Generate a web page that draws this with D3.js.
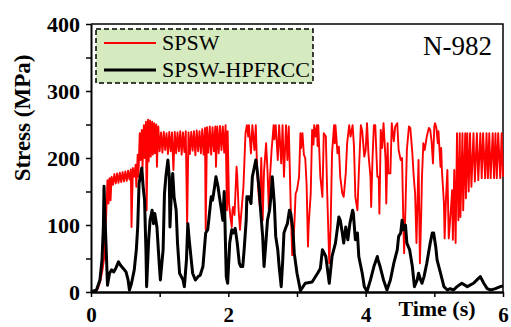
<!DOCTYPE html>
<html>
<head>
<meta charset="utf-8">
<script src="https://cdn.jsdelivr.net/npm/d3@7"></script>
<style>
  body { margin: 0; background: #fff; }
  svg { display: block; font-family: "Liberation Serif", "Times New Roman", serif; }
</style>
</head>
<body>
<div id="chart"></div>
<script>
// Axis ticks
const yTicks = [0, 50, 100, 150, 200, 250, 300, 350, 400];
const yLabels = [0, 100, 200, 300, 400];
const xTicks = [0, 1, 2, 3, 4, 5, 6];
const xLabels = [0, 2, 4, 6];

// Series names
const seriesNames = ["SPSW", "SPSW-HPFRCC"];
const panelLabel = "N-982";

// SPSW (red), [time s, stress MPa]
const spsw = [
  [0.00,0],[0.06,0],[0.10,5],[0.14,18],[0.17,35],[0.19,50],[0.20,78],[0.22,112],[0.24,167],[0.255,132],
  [0.27,170],[0.285,137],[0.30,172],[0.32,160],[0.34,176],[0.36,162],[0.38,177],[0.40,163],[0.42,178],
  [0.44,164],[0.46,179],[0.48,165],[0.50,180],[0.52,166],[0.54,181],[0.56,168],[0.58,183],[0.59,97],
  [0.61,185],[0.63,172],[0.65,190],[0.66,157],[0.68,205],[0.69,172],[0.71,237],[0.72,197],[0.74,242],
  [0.75,185],[0.77,249],[0.78,200],[0.80,254],[0.81,122],[0.83,257],[0.84,195],[0.86,256],[0.87,202],
  [0.89,254],[0.90,205],[0.92,252],[0.93,207],[0.95,250],[0.96,187],[0.98,247],
  [1.00,210],[1.02,238],[1.04,208],[1.06,239],[1.08,212],[1.10,237],[1.12,206],[1.14,239],[1.16,210],
  [1.18,238],[1.20,182],[1.22,239],[1.24,207],[1.26,238],[1.28,210],[1.30,240],[1.32,205],[1.34,238],
  [1.36,209],[1.38,240],[1.40,102],[1.42,238],[1.44,206],[1.46,239],[1.48,211],[1.50,240],[1.52,204],
  [1.54,241],[1.56,210],[1.58,240],[1.60,207],[1.62,243],[1.64,205],[1.66,245],[1.67,93],[1.69,246],
  [1.71,208],[1.73,247],[1.75,205],[1.77,246],[1.79,210],[1.81,247],[1.82,187],[1.84,247],[1.86,207],
  [1.88,248],[1.90,212],[1.92,247],[1.94,208],[1.96,249],[1.98,122],[1.99,240],
  [2.01,132],[2.03,112],[2.05,97],[2.06,122],[2.07,127],[2.09,115],[2.12,187],[2.13,172],[2.15,122],
  [2.17,93],[2.18,107],[2.22,157],[2.25,237],[2.27,249],[2.29,232],[2.30,249],[2.33,207],[2.35,249],
  [2.38,212],[2.40,249],[2.42,180],[2.44,147],[2.46,127],[2.48,200],[2.50,107],[2.52,180],[2.55,222],
  [2.57,182],[2.59,122],[2.60,160],[2.63,212],[2.66,249],[2.67,228],[2.69,249],[2.72,197],[2.74,249],
  [2.77,192],[2.79,249],[2.81,172],[2.84,249],[2.86,197],[2.88,247],[2.91,122],[2.93,55],[2.96,97],
  [2.98,147],[3.00,152],[3.03,172],[3.05,237],[3.06,215],[3.08,237],[3.10,205],[3.12,200],[3.14,160],
  [3.16,68],[3.17,100],[3.20,147],[3.22,242],[3.24,220],[3.25,249],[3.27,232],[3.29,249],[3.30,218],
  [3.31,249],[3.34,172],[3.37,142],[3.39,237],[3.42,232],[3.44,147],[3.47,43],[3.49,97],[3.51,207],
  [3.54,249],[3.55,222],[3.56,249],[3.59,207],[3.61,217],[3.63,172],[3.66,147],[3.68,142],[3.71,177],
  [3.73,222],[3.76,249],[3.78,232],[3.81,249],[3.83,217],[3.85,142],[3.88,122],[3.90,177],[3.93,249],
  [3.95,240],[3.98,202],[4.00,212],[4.02,252],[4.04,207],[4.07,172],[4.08,127],[4.10,200],[4.12,249],
  [4.14,249],[4.17,172],[4.19,172],[4.20,117],[4.22,242],[4.24,215],[4.26,252],[4.29,197],[4.30,132],
  [4.32,222],[4.33,177],[4.36,177],[4.38,252],[4.41,225],[4.43,247],[4.46,252],[4.48,212],[4.51,197],
  [4.53,200],[4.55,97],[4.56,58],[4.58,127],[4.60,212],[4.63,247],[4.65,245],[4.68,207],[4.70,172],
  [4.72,147],[4.74,73],[4.76,157],[4.77,197],[4.79,43],[4.81,122],[4.82,172],[4.84,222],[4.86,212],
  [4.89,232],[4.92,245],[4.94,242],[4.96,225],[4.98,192],[5.00,247],[5.01,252],[5.03,245],[5.05,222],
  [5.06,240],[5.09,187],[5.10,215],[5.11,182],[5.14,132],[5.15,80],[5.17,140],[5.19,182],[5.21,80],
  [5.23,107],[5.26,152],[5.27,78],[5.29,182],[5.31,73],[5.33,237],[5.35,107],[5.37,237],[5.38,112],
  [5.41,237],[5.42,122],[5.45,237],[5.46,140],[5.48,237],[5.50,150],[5.52,237],[5.54,157],[5.57,237],
  [5.59,165],[5.62,237],[5.64,167],[5.67,237],[5.69,170],[5.71,237],[5.74,170],[5.76,237],[5.78,170],
  [5.80,237],[5.82,170],[5.85,237],[5.87,170],[5.89,237],[5.91,170],[5.93,237],[5.96,170],[5.98,237],
  [6.00,172]
];

// SPSW-HPFRCC (black), [time s, stress MPa]
const hpfrcc = [
  [0.00,0],[0.08,3],[0.13,18],[0.16,48],[0.18,97],[0.19,158],[0.20,122],[0.22,68],[0.24,10],[0.27,28],
  [0.30,33],[0.33,30],[0.36,35],[0.40,45],[0.43,40],[0.47,35],[0.51,30],[0.54,18],[0.56,3],[0.59,13],
  [0.63,33],[0.66,63],[0.68,97],[0.70,162],[0.74,185],[0.76,157],[0.78,137],[0.80,63],[0.81,8],
  [0.84,78],[0.86,107],[0.89,122],[0.91,102],[0.93,117],[0.96,97],[0.99,48],[1.01,18],[1.05,63],
  [1.07,147],[1.09,172],[1.12,197],[1.14,172],[1.15,97],[1.17,147],[1.19,177],[1.21,142],[1.24,122],
  [1.26,73],[1.29,28],[1.34,18],[1.36,8],[1.39,48],[1.41,102],[1.43,78],[1.46,48],[1.48,28],[1.52,18],
  [1.56,23],[1.59,25],[1.63,38],[1.67,88],[1.70,93],[1.72,112],[1.75,142],[1.77,137],[1.80,157],
  [1.82,172],[1.85,157],[1.87,142],[1.90,122],[1.92,107],[1.94,150],[1.97,23],[1.99,13],[2.02,73],
  [2.05,93],[2.07,88],[2.10,95],[2.13,73],[2.16,43],[2.18,38],[2.21,38],[2.23,63],[2.26,107],[2.27,142],
  [2.30,142],[2.33,132],[2.35,172],[2.38,187],[2.40,197],[2.42,182],[2.45,152],[2.47,122],[2.50,83],
  [2.52,38],[2.55,78],[2.57,107],[2.60,122],[2.62,142],[2.64,172],[2.67,132],[2.69,83],[2.72,63],
  [2.74,38],[2.77,8],[2.79,43],[2.81,88],[2.84,97],[2.86,102],[2.89,122],[2.91,117],[2.94,93],[2.96,58],
  [3.00,28],[3.05,2],[3.12,13],[3.22,15],[3.30,28],[3.34,35],[3.37,63],[3.42,53],[3.47,13],[3.51,53],
  [3.56,73],[3.61,112],[3.63,107],[3.66,88],[3.68,73],[3.71,97],[3.74,78],[3.77,102],[3.81,122],
  [3.82,118],[3.85,78],[3.88,88],[3.90,53],[3.95,28],[3.98,8],[4.02,1],[4.07,18],[4.12,38],[4.17,53],
  [4.18,48],[4.21,38],[4.26,18],[4.31,3],[4.36,18],[4.41,43],[4.46,63],[4.48,83],[4.51,88],[4.53,107],
  [4.55,93],[4.58,100],[4.60,73],[4.64,63],[4.68,38],[4.71,8],[4.75,18],[4.77,28],[4.80,18],[4.82,13],
  [4.85,23],[4.89,43],[4.94,73],[4.97,88],[4.99,88],[5.02,68],[5.04,48],[5.09,28],[5.14,8],[5.19,3],
  [5.23,5],[5.28,3],[5.33,8],[5.40,13],[5.48,8],[5.57,13],[5.62,18],[5.67,23],[5.72,13],[5.77,5],
  [5.82,3],[5.89,5],[5.96,8],[6.00,9]
];

const colors = ["#ff0000", "#000000"];

const svg = d3.select("#chart")
  .append("svg")
  .attr("width", 511)
  .attr("height", 327);

const x = d3.scaleLinear().domain([0, 6]).range([91, 503]);
const y = d3.scaleLinear().domain([0, 400]).range([292, 24]);

// Frame (top and right)
svg.append("path")
  .attr("d", `M${x(0)},${y(400)}H${x(6)}V${y(0)}`)
  .attr("fill", "none")
  .attr("stroke", "#000")
  .attr("stroke-width", 1.5);

// Lines
const line = d3.line()
  .x(d => x(d[0]))
  .y(d => y(d[1]));

svg.append("path")
  .datum(spsw)
  .attr("d", line)
  .attr("fill", "none")
  .attr("stroke", colors[0])
  .attr("stroke-width", 1.9)
  .attr("stroke-linejoin", "round");

svg.append("path")
  .datum(hpfrcc)
  .attr("d", line)
  .attr("fill", "none")
  .attr("stroke", colors[1])
  .attr("stroke-width", 3)
  .attr("stroke-linejoin", "round");

// Y axis
const yAxis = svg.append("g")
  .attr("transform", `translate(${x(0)},0)`)
  .call(d3.axisLeft(y)
    .tickValues(yTicks)
    .tickSize(5)
    .tickSizeOuter(0)
    .tickPadding(6)
    .tickFormat(d => yLabels.includes(d) ? d : ""));
yAxis.select(".domain").attr("stroke-width", 2);
yAxis.selectAll(".tick line").attr("stroke-width", 1.5);
yAxis.selectAll("text")
  .attr("fill", "#000")
  .style("font-family", "'Liberation Serif', serif")
  .style("font-size", "22px")
  .style("font-weight", "bold");

// X axis
const xAxis = svg.append("g")
  .attr("transform", `translate(0,${y(0)})`)
  .call(d3.axisBottom(x)
    .tickValues(xTicks)
    .tickSize(5)
    .tickSizeOuter(0)
    .tickPadding(10)
    .tickFormat(d => xLabels.includes(d) ? d : ""));
xAxis.select(".domain").attr("stroke-width", 2.5);
xAxis.selectAll(".tick line").attr("stroke-width", 1.5);
xAxis.selectAll("text")
  .attr("fill", "#000")
  .style("font-family", "'Liberation Serif', serif")
  .style("font-size", "21px")
  .style("font-weight", "bold");

// Axis titles
svg.append("text")
  .attr("transform", "translate(30,118) rotate(-90)")
  .attr("text-anchor", "middle")
  .style("font-size", "23px")
  .style("font-weight", "bold")
  .text("Stress (MPa)");

svg.append("text")
  .attr("x", 437)
  .attr("y", 316)
  .attr("text-anchor", "middle")
  .style("font-size", "22px")
  .style("font-weight", "bold")
  .text("Time (s)");

// Panel label
svg.append("text")
  .attr("x", 492)
  .attr("y", 55)
  .attr("text-anchor", "end")
  .style("font-size", "27px")
  .text(panelLabel);

// Legend
const legend = svg.append("g");
legend.append("rect")
  .attr("x", 96)
  .attr("y", 29)
  .attr("width", 217)
  .attr("height", 54)
  .attr("fill", "#d5eabf")
  .attr("stroke", "#000")
  .attr("stroke-width", 1.5)
  .attr("stroke-dasharray", "5,3");

const legendItem = legend.selectAll(".legend-item")
  .data(seriesNames)
  .enter()
  .append("g")
  .attr("class", "legend-item")
  .attr("transform", (d, i) => `translate(0,${43 + i * 27})`);

legendItem.append("line")
  .attr("x1", 104)
  .attr("x2", 156)
  .attr("stroke", (d, i) => colors[i])
  .attr("stroke-width", (d, i) => i === 0 ? 1.8 : 2.8);

legendItem.append("text")
  .attr("x", 162)
  .attr("y", 7)
  .style("font-size", "22px")
  .text(d => d);
</script>
</body>
</html>
